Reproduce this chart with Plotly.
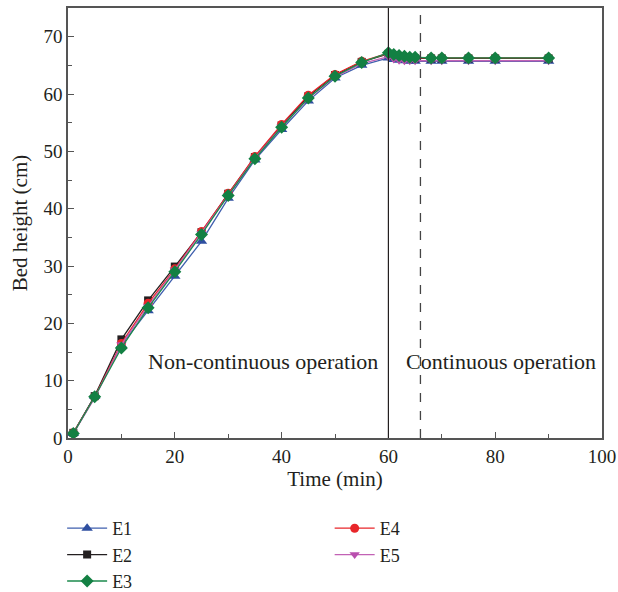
import plotly.graph_objects as go

time = [1, 5, 10, 15, 20, 25, 30, 35, 40, 45, 50, 55, 60, 61, 62, 63, 64, 65, 68, 70, 75, 80, 90]

e1 = [0.8, 7.3, 16.2, 22.2, 28.2, 34.3, 41.8, 48.5, 53.8, 58.8, 62.8, 65.0, 66.3,
      66.0, 65.9, 65.8, 65.7, 65.7, 65.7, 65.7, 65.7, 65.7, 65.7]
e2 = [0.9, 7.3, 17.2, 24.0, 29.9, 35.9, 42.6, 49.0, 54.5, 59.6, 63.3, 65.6, 67.0,
      66.7, 66.5, 66.4, 66.3, 66.2, 66.2, 66.2, 66.2, 66.2, 66.2]
e3 = [0.8, 7.2, 15.7, 22.7, 29.0, 35.5, 42.3, 48.7, 54.2, 59.3, 63.1, 65.5, 67.2,
      66.9, 66.7, 66.6, 66.4, 66.4, 66.3, 66.3, 66.3, 66.3, 66.3]
e4 = [0.9, 7.2, 16.5, 23.5, 29.5, 36.0, 42.7, 49.1, 54.7, 59.8, 63.4, 65.7, 67.1,
      66.7, 66.5, 66.4, 66.3, 66.3, 66.3, 66.3, 66.3, 66.3, 66.3]
e5 = [0.8, 7.0, 16.3, 23.0, 29.3, 35.7, 42.3, 48.8, 54.3, 59.2, 63.0, 65.3, 66.5,
      66.1, 65.9, 65.8, 65.8, 65.8, 65.8, 65.8, 65.8, 65.8, 65.8]

switch_time = 60
steady_time = 66
labels = ["Non-continuous operation", "Continuous operation"]

FONT = "Liberation Serif"
TXT = "#231f20"

fig = go.Figure()

series = [
    ("E1", e1, "#3f5fae", "#2f4fa0", "triangle-up", 10, "legend", 1),
    ("E2", e2, "#231f20", "#231f20", "square", 8, "legend", 2),
    ("E4", e4, "#e8262a", "#e8262a", "circle", 9, "legend2", 1),
    ("E5", e5, "#c262b5", "#b94fae", "triangle-down", 9, "legend2", 2),
    ("E3", e3, "#1b8a4c", "#138043", "diamond", 10, "legend", 3),
]
for name, ys, lc, mc, sym, sz, leg, rank in series:
    fig.add_trace(go.Scatter(
        x=time, y=ys, name=name, mode="lines+markers",
        line=dict(color=lc, width=1.3),
        marker=dict(symbol=sym, size=sz, color=mc, line=dict(width=0)),
        legend=leg, legendrank=rank, legendgroup=name,
    ))

fig.add_vline(x=switch_time, line=dict(color="#231f20", width=1.2))
fig.add_vline(x=steady_time, line=dict(color="#444444", width=1.3, dash="dash"))

fig.add_annotation(x=(switch_time - 1.5), y=13.3, xref="x", yref="y", text=labels[0],
                   showarrow=False, xanchor="right", font=dict(family=FONT, size=22, color=TXT))
fig.add_annotation(x=(switch_time + 3), y=13.3, xref="x", yref="y", text=labels[1],
                   showarrow=False, xanchor="left", font=dict(family=FONT, size=22, color=TXT))

axis_common = dict(
    showline=True, linecolor="#555555", linewidth=1.5, mirror=True,
    ticks="inside", ticklen=6, tickwidth=1.3, tickcolor="#555555",
    showgrid=False, zeroline=False,
    tickfont=dict(family=FONT, size=19, color=TXT),
)
fig.update_xaxes(range=[0, 100], dtick=20, tick0=0,
                 minor=dict(dtick=10, ticks="inside", ticklen=4, tickcolor="#555555", tickwidth=1.3),
                 title=dict(text="Time (min)", font=dict(family=FONT, size=21, color=TXT), standoff=4),
                 **axis_common)
fig.update_yaxes(range=[0, 75], dtick=10, tick0=0,
                 minor=dict(dtick=5, ticks="inside", ticklen=4, tickcolor="#555555", tickwidth=1.3),
                 title=dict(text="Bed height (cm)", font=dict(family=FONT, size=21, color=TXT), standoff=10),
                 **axis_common)

legend_common = dict(
    xanchor="left", yanchor="top", yref="container", bgcolor="rgba(0,0,0,0)",
    font=dict(family=FONT, size=18, color=TXT), tracegroupgap=0,
    traceorder="normal", itemwidth=40,
)
fig.update_layout(
    width=618, height=592,
    margin=dict(l=68, r=16, t=8, b=154, autoexpand=False),
    plot_bgcolor="white", paper_bgcolor="white",
    legend=dict(x=-0.011, y=1 - 510 / 592, **legend_common),
    legend2=dict(x=0.49, y=1 - 510 / 592, **legend_common),
)

fig.write_html("out.html")
